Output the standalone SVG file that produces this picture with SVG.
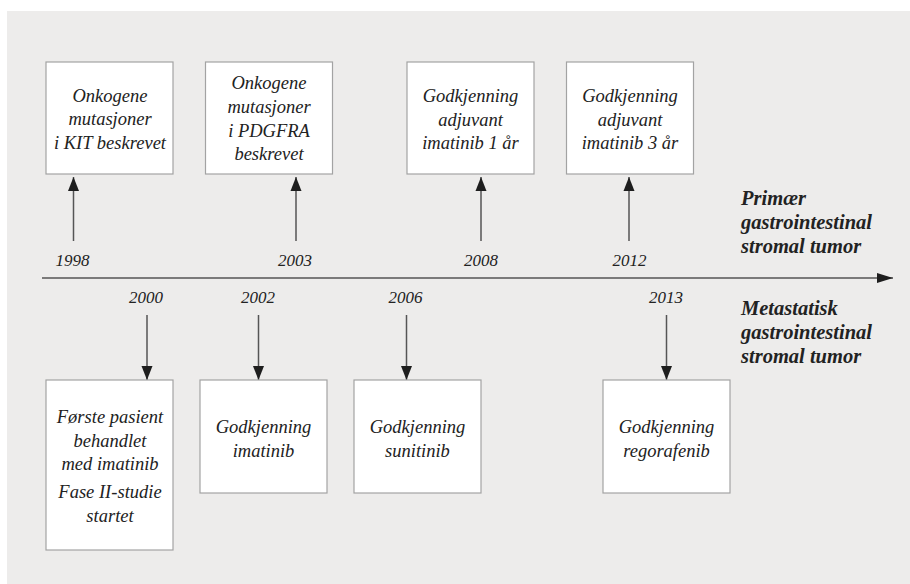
<svg xmlns="http://www.w3.org/2000/svg" width="910" height="584" viewBox="0 0 910 584">
  <defs>
    <marker id="ah" markerUnits="userSpaceOnUse" markerWidth="14" markerHeight="12" refX="14" refY="6" orient="auto">
      <path d="M0,0.5 L14,6 L0,11.5 z" fill="#1e1e1e"/>
    </marker>
    <marker id="ah2" markerUnits="userSpaceOnUse" markerWidth="16" markerHeight="12" refX="16" refY="6" orient="auto">
      <path d="M0,1 L16,6 L0,11 z" fill="#1e1e1e"/>
    </marker>
    <style>
      .box { fill: #ffffff; stroke: #a3a3a3; stroke-width: 1.2; }
      .t { font-family: "Liberation Serif", serif; font-style: italic; font-size: 18.5px; fill: #222; text-anchor: middle; }
      .yr { font-family: "Liberation Serif", serif; font-style: italic; font-size: 17px; fill: #222; text-anchor: middle; }
      .lab { font-family: "Liberation Serif", serif; font-style: italic; font-weight: bold; font-size: 20.5px; fill: #222; }
      .conn { stroke: #555; stroke-width: 1.5; fill: none; }
    </style>
  </defs>
  <rect x="7" y="11" width="903" height="573" fill="#edeceb"/>

  <g id="connectors">
    <line class="conn" x1="42" y1="278" x2="893" y2="278" marker-end="url(#ah2)"/>
    <line class="conn" x1="73.5" y1="241" x2="73.5" y2="177" marker-end="url(#ah)"/>
    <line class="conn" x1="296" y1="241" x2="296" y2="177" marker-end="url(#ah)"/>
    <line class="conn" x1="481" y1="241" x2="481" y2="177" marker-end="url(#ah)"/>
    <line class="conn" x1="629" y1="241" x2="629" y2="177" marker-end="url(#ah)"/>
    <line class="conn" x1="147" y1="315" x2="147" y2="380" marker-end="url(#ah)"/>
    <line class="conn" x1="258.5" y1="315" x2="258.5" y2="380" marker-end="url(#ah)"/>
    <line class="conn" x1="406.5" y1="315" x2="406.5" y2="380" marker-end="url(#ah)"/>
    <line class="conn" x1="666.5" y1="315" x2="666.5" y2="380" marker-end="url(#ah)"/>
  </g>

  <g id="years">
    <text class="yr" x="72.5" y="266">1998</text>
    <text class="yr" x="295" y="266">2003</text>
    <text class="yr" x="481" y="266">2008</text>
    <text class="yr" x="629.5" y="266">2012</text>
    <text class="yr" x="146" y="303">2000</text>
    <text class="yr" x="258" y="303">2002</text>
    <text class="yr" x="405.5" y="303">2006</text>
    <text class="yr" x="666" y="303">2013</text>
  </g>

  <g id="label-primary">
    <text class="lab" x="741" y="205">Primær</text>
    <text class="lab" x="741" y="229">gastrointestinal</text>
    <text class="lab" x="741" y="253">stromal tumor</text>
  </g>
  <g id="label-metastatic">
    <text class="lab" x="741" y="315">Metastatisk</text>
    <text class="lab" x="741" y="339">gastrointestinal</text>
    <text class="lab" x="741" y="363">stromal tumor</text>
  </g>

  <g id="n1998">
    <rect class="box" x="46" y="62" width="127" height="112"/>
    <text class="t" x="110" y="101.5">Onkogene</text>
    <text class="t" x="110" y="125">mutasjoner</text>
    <text class="t" x="110" y="148.5">i KIT beskrevet</text>
  </g>
  <g id="n2003">
    <rect class="box" x="205.5" y="62" width="127" height="112"/>
    <text class="t" x="269" y="89">Onkogene</text>
    <text class="t" x="269" y="113">mutasjoner</text>
    <text class="t" x="269" y="136.5">i PDGFRA</text>
    <text class="t" x="269" y="160">beskrevet</text>
  </g>
  <g id="n2008">
    <rect class="box" x="407" y="62" width="127" height="112"/>
    <text class="t" x="470.5" y="102">Godkjenning</text>
    <text class="t" x="470.5" y="125.5">adjuvant</text>
    <text class="t" x="470.5" y="149">imatinib 1 år</text>
  </g>
  <g id="n2012">
    <rect class="box" x="566.5" y="62" width="127" height="112"/>
    <text class="t" x="630" y="102">Godkjenning</text>
    <text class="t" x="630" y="125.5">adjuvant</text>
    <text class="t" x="630" y="149">imatinib 3 år</text>
  </g>

  <g id="n2000">
    <rect class="box" x="46" y="380" width="127" height="170"/>
    <text class="t" x="110" y="423">Første pasient</text>
    <text class="t" x="110" y="446.5">behandlet</text>
    <text class="t" x="110" y="470">med imatinib</text>
    <text class="t" x="110" y="498">Fase II-studie</text>
    <text class="t" x="110" y="521.5">startet</text>
  </g>
  <g id="n2002">
    <rect class="box" x="200" y="380" width="127" height="113"/>
    <text class="t" x="263.5" y="433">Godkjenning</text>
    <text class="t" x="263.5" y="456.5">imatinib</text>
  </g>
  <g id="n2006">
    <rect class="box" x="354" y="380" width="127" height="113"/>
    <text class="t" x="417.5" y="433">Godkjenning</text>
    <text class="t" x="417.5" y="456.5">sunitinib</text>
  </g>
  <g id="n2013">
    <rect class="box" x="603" y="380" width="127" height="113"/>
    <text class="t" x="666.5" y="433">Godkjenning</text>
    <text class="t" x="666.5" y="456.5">regorafenib</text>
  </g>
</svg>
